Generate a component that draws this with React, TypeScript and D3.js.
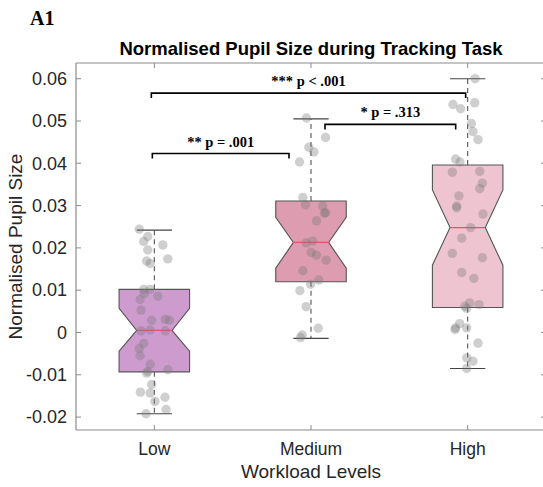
import React from "react";
import * as d3 from "d3";

const categories = ["Low", "Medium", "High"];
const boxColors = ["#cd9bcd", "#dd9cb0", "#eec4d1"];

const q1 = [-0.0093, 0.012, 0.0059];
const q3 = [0.0102, 0.0311, 0.0396];
const medians = [0.0005, 0.0213, 0.0248];
const notchLo = [-0.0044, 0.0152, 0.0159];
const notchHi = [0.0057, 0.0272, 0.0337];
const whiskerLo = [-0.0192, -0.0014, -0.0085];
const whiskerHi = [0.0242, 0.0505, 0.06];

const lowValues = [0.0244, 0.0227, 0.0215, 0.0207, 0.0195, 0.0174, 0.0169, 0.0163, 0.0102, 0.0102, 0.0092, 0.0086, 0.0078, 0.0053, 0.0029, 0.0031, 0.0029, 0.0004, 0.0006, 0.0004, -0.0026, -0.0038, -0.0055, -0.0075, -0.0092, -0.0088, -0.0096, -0.0123, -0.0141, -0.0143, -0.0153, -0.0163, -0.0182, -0.0192];
const lowJitter = [-0.096, -0.042, -0.068, 0.054, -0.042, 0.086, -0.049, -0.027, -0.068, -0.027, -0.064, 0.022, -0.091, -0.085, -0.017, 0.07, 0.096, -0.085, -0.027, 0.07, -0.068, -0.096, -0.091, -0.026, -0.042, 0.086, -0.049, -0.017, -0.089, -0.027, 0.068, 0.004, 0.075, -0.053];

const mediumValues = [0.0507, 0.0461, 0.0438, 0.0427, 0.0403, 0.0319, 0.0302, 0.0299, 0.0283, 0.0282, 0.0264, 0.0212, 0.0216, 0.0189, 0.0183, 0.0171, 0.0146, 0.0124, 0.0114, 0.0099, 0.0061, 0.001, -0.0006, -0.0012];
const mediumJitter = [-0.029, 0.093, -0.014, 0.018, -0.073, -0.052, -0.035, 0.075, 0.093, 0.086, 0.035, -0.031, 0.011, 0.001, 0.035, 0.097, -0.052, 0.05, -0.003, -0.071, -0.031, 0.046, -0.056, -0.067];

const highValues = [0.06, 0.0539, 0.0529, 0.0543, 0.0494, 0.0475, 0.0456, 0.041, 0.0403, 0.0379, 0.0381, 0.0353, 0.034, 0.0323, 0.0299, 0.0295, 0.028, 0.0248, 0.0223, 0.0187, 0.0177, 0.0142, 0.0128, 0.007, 0.0062, 0.0057, 0.0066, 0.0021, 0.0011, 0.0011, 0.0007, -0.0025, -0.006, -0.0068, -0.0085];
const highJitter = [0.047, -0.094, -0.045, 0.045, 0.024, 0.034, 0.066, -0.077, -0.049, -0.098, 0.077, 0.094, 0.077, -0.056, -0.07, -0.07, 0.098, 0.019, -0.038, -0.098, 0.094, -0.038, 0.04, 0.013, -0.019, -0.006, 0.072, -0.051, -0.077, -0.006, -0.081, 0.066, -0.006, 0.034, -0.006];

const pointValues = [lowValues, mediumValues, highValues];
const pointJitter = [lowJitter, mediumJitter, highJitter];

const yTicks = [-0.02, -0.01, 0, 0.01, 0.02, 0.03, 0.04, 0.05, 0.06];
const yTickLabels = ["-0.02", "-0.01", "0", "0.01", "0.02", "0.03", "0.04", "0.05", "0.06"];

const bracketFrom = [0, 1, 0];
const bracketTo = [1, 2, 2];
const bracketLevel = [0.0423, 0.0492, 0.0566];
const bracketLabels = ["** p = .001", "* p = .313", "*** p < .001"];
// horizontal pixel nudges of the bracket ends (layout)
const bracketNudgeL = [-2, 14, -3];
const bracketNudgeR = [-22, -12, -2];

const W = 543, H = 487;
const left = 76, right = 546, top = 63, bottom = 430;

export default function App() {
  const x = d3.scaleLinear().domain([0.5, 3.5]).range([left, right]);
  const y = d3.scaleLinear().domain([-0.02305, 0.06371]).range([bottom, top]);
  const unit = x(1) - x(0);
  const half = 0.225 * unit;
  const axisColor = "#8c8c8c";
  const textColor = "#262626";
  const sans = "'Liberation Sans', Arial, Helvetica, sans-serif";
  const serif = "'Liberation Serif', 'Times New Roman', serif";

  return (
    <svg width={W} height={H} style={{ position: "absolute", left: 0, top: 0, background: "#fff" }}>
      <rect x={0} y={0} width={W} height={H} fill="#fff" />
      <text x={30} y={25} fontFamily={serif} fontWeight="bold" fontSize={20} fill="#000">A1</text>
      <text x={(left + right) / 2} y={55} textAnchor="middle" fontFamily={sans} fontWeight="bold" fontSize={18.5} fill="#000">
        Normalised Pupil Size during Tracking Task
      </text>

      {/* axes */}
      <line x1={left} x2={right} y1={top} y2={top} stroke={axisColor} strokeWidth={1.2} />
      <line x1={left} x2={right} y1={bottom} y2={bottom} stroke={axisColor} strokeWidth={1.2} />
      <line x1={left} x2={left} y1={top} y2={bottom} stroke={axisColor} strokeWidth={1.2} />
      {yTicks.map((t, i) => (
        <g key={"yt" + i}>
          <line x1={left} x2={left + 5} y1={y(t)} y2={y(t)} stroke={axisColor} />
          <line x1={right - 5} x2={right} y1={y(t)} y2={y(t)} stroke={axisColor} />
          <text x={left - 9} y={y(t)} dy="0.35em" textAnchor="end" fontFamily={sans} fontSize={18} fill={textColor}>
            {yTickLabels[i]}
          </text>
        </g>
      ))}
      {categories.map((c, i) => (
        <g key={"xt" + i}>
          <line x1={x(i + 1)} x2={x(i + 1)} y1={bottom} y2={bottom - 5} stroke={axisColor} />
          <line x1={x(i + 1)} x2={x(i + 1)} y1={top} y2={top + 5} stroke={axisColor} />
          <text x={x(i + 1)} y={455} textAnchor="middle" fontFamily={sans} fontSize={17.5} fill={textColor}>{c}</text>
        </g>
      ))}
      <text x={(left + right) / 2} y={478} textAnchor="middle" fontFamily={sans} fontSize={19} fill={textColor}>Workload Levels</text>
      <text transform={`translate(22,${(top + bottom) / 2}) rotate(-90)`} textAnchor="middle" fontFamily={sans} fontSize={19} fill={textColor}>
        Normalised Pupil Size
      </text>

      {/* boxes */}
      {categories.map((c, i) => {
        const cx = x(i + 1);
        const l = cx - half, r = cx + half, nl = cx - half / 2, nr = cx + half / 2;
        const pts: [number, number][] = [
          [l, y(q3[i])], [r, y(q3[i])], [r, y(notchHi[i])], [nr, y(medians[i])], [r, y(notchLo[i])],
          [r, y(q1[i])], [l, y(q1[i])], [l, y(notchLo[i])], [nl, y(medians[i])], [l, y(notchHi[i])],
        ];
        const path = d3.line()(pts) + "Z";
        return (
          <g key={"box" + i}>
            <line x1={cx} x2={cx} y1={y(q3[i])} y2={y(whiskerHi[i])} stroke="#555" strokeDasharray="5,4" strokeWidth={1.1} />
            <line x1={cx} x2={cx} y1={y(q1[i])} y2={y(whiskerLo[i])} stroke="#555" strokeDasharray="5,4" strokeWidth={1.1} />
            <line x1={cx - half / 2} x2={cx + half / 2} y1={y(whiskerHi[i])} y2={y(whiskerHi[i])} stroke="#444" strokeWidth={1.1} />
            <line x1={cx - half / 2} x2={cx + half / 2} y1={y(whiskerLo[i])} y2={y(whiskerLo[i])} stroke="#444" strokeWidth={1.1} />
            <path d={path} fill={boxColors[i]} stroke="#555" strokeWidth={1.1} />
            <line x1={nl} x2={nr} y1={y(medians[i])} y2={y(medians[i])} stroke="#e8506e" strokeWidth={1.2} />
          </g>
        );
      })}

      {/* points */}
      {pointValues.map((vals, i) =>
        vals.map((v, j) => (
          <circle key={`p${i}-${j}`} cx={x(i + 1 + pointJitter[i][j])} cy={y(v)} r={4.7} fill="#7a7a7a" fillOpacity={0.36} />
        ))
      )}

      {/* significance brackets */}
      {bracketLabels.map((lab, k) => {
        const x1 = x(bracketFrom[k] + 1) + bracketNudgeL[k];
        const x2 = x(bracketTo[k] + 1) + bracketNudgeR[k];
        const yy = y(bracketLevel[k]);
        return (
          <g key={"br" + k}>
            <path d={`M${x1},${yy + 5}V${yy}H${x2}V${yy + 5}`} fill="none" stroke="#000" strokeWidth={1.6} />
            <text x={(x1 + x2) / 2} y={yy - 7} textAnchor="middle" fontFamily={serif} fontWeight="bold" fontSize={14.5} fill="#000">
              {lab}
            </text>
          </g>
        );
      })}
    </svg>
  );
}
